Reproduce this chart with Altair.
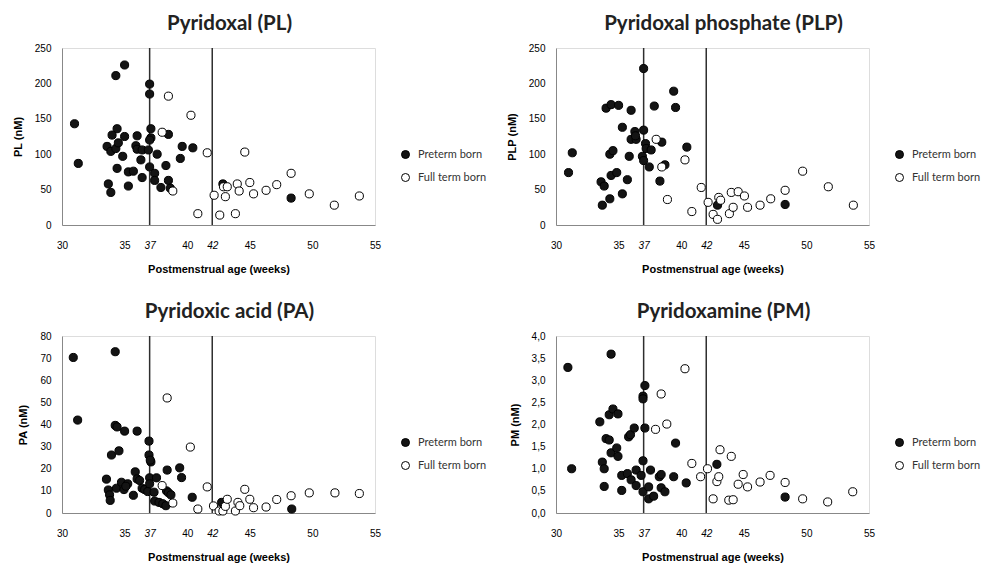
import altair as alt
import pandas as pd

FONT = "Lato"
GROUPS = ["Preterm born", "Full term born"]
X_TICKS = [30, 35, 37, 40, 42, 45, 50, 55]
REF_LINES = [37, 42]
X_TITLE = "Postmenstrual age (weeks)"

# ---- Pyridoxal (PL) ----
pl_pre_age = [31.0, 31.3, 34.3, 35.0, 37.0, 37.0, 34.4, 34.0, 35.0, 33.6, 33.9, 34.3, 34.5, 34.85, 34.4,
              33.7, 33.9, 35.3, 35.3, 35.7, 36.0, 35.9, 36.0, 36.4, 36.9, 36.3, 36.4, 37.1, 37.1, 37.0,
              37.0, 37.4, 37.4, 37.6, 37.9, 38.3, 38.5, 38.5, 38.65, 39.45, 39.6, 40.45, 42.85, 48.3]
pl_pre_val = [143, 87, 211, 226, 199, 185, 136, 127, 125, 111, 104, 108, 116, 97, 80,
              58, 46, 55, 75, 76, 126, 112, 107, 106, 106, 92, 67, 136, 123, 120,
              82, 73, 63, 100, 53, 84, 128, 63, 52, 94, 111, 109, 58, 38]
pl_full_age = [38.5, 38.0, 38.85, 40.3, 40.85, 41.6, 42.15, 42.6, 42.9, 43.05, 43.2, 43.85, 44.0, 44.15,
               44.6, 45.0, 45.3, 46.3, 47.15, 48.3, 49.75, 51.75, 53.75]
pl_full_val = [182, 131, 48, 155, 16, 102, 42, 14, 54, 40, 54, 16, 58, 48,
               103, 60, 44, 49, 57, 73, 44, 28, 41]

# ---- Pyridoxal phosphate (PLP) ----
plp_pre_age = [31.0, 31.3, 33.6, 33.85, 33.7, 34.0, 34.4, 35.0, 34.3, 34.55, 34.4, 34.85, 34.3, 35.3,
               35.3, 35.7, 35.85, 36.0, 36.0, 36.3, 36.4, 36.35, 37.0, 37.0, 36.9, 37.0, 37.15, 37.2,
               37.6, 37.45, 37.85, 38.45, 38.3, 38.7, 39.4, 39.55, 40.45, 42.9, 48.3]
plp_pre_val = [74, 102, 61, 55, 28, 165, 170, 169, 100, 105, 70, 74, 37, 138,
               44, 64, 97, 162, 121, 132, 121, 126, 221, 134, 97, 91, 115, 108,
               106, 82, 168, 117, 62, 85, 189, 166, 110, 28, 29]
plp_full_age = [38.0, 38.45, 38.9, 40.3, 40.85, 41.6, 42.15, 42.55, 42.9, 43.0, 43.15, 43.85, 44.0,
                44.15, 44.55, 45.05, 45.3, 46.3, 47.15, 48.3, 49.7, 51.75, 53.75]
plp_full_val = [121, 82, 36, 92, 19, 53, 32, 15, 8, 39, 35, 16, 46,
                25, 47, 41, 25, 28, 37, 49, 76, 54, 28]

# ---- Pyridoxic acid (PA) ----
pa_pre_age = [30.9, 31.25, 34.25, 34.25, 34.4, 35.0, 36.0, 33.95, 34.55, 33.55, 33.7, 33.8, 33.85, 34.35,
              34.75, 34.95, 35.25, 35.1, 35.7, 35.85, 36.0, 36.2, 36.4, 36.6, 36.85, 36.95, 36.95, 37.1,
              37.05, 37.0, 37.0, 37.55, 37.35, 37.4, 37.75, 38.05, 38.3, 38.4, 38.35, 38.5, 38.7, 39.4,
              39.55, 40.4, 42.75, 48.35]
pa_pre_val = [70.3, 42, 72.9, 39.6, 38.9, 37, 37, 26.2, 28.1, 15.3, 10.4, 8.2, 5.7, 11.2,
              13.9, 10.6, 13.2, 12.1, 8, 18.6, 15.4, 14.7, 11.2, 10.6, 9.7, 32.5, 26.2, 23.1,
              23.9, 15.9, 13.2, 15.9, 9.4, 5.4, 4.8, 4.2, 3.3, 19.4, 10, 9.2, 8.2, 20.4,
              16, 7.1, 4.8, 1.8]
pa_full_age = [38.4, 38.0, 38.85, 40.25, 40.85, 41.6, 42.1, 42.55, 42.85, 43.05, 43.2, 43.85, 44.05,
               44.2, 44.6, 45.0, 45.3, 46.3, 47.15, 48.3, 49.75, 51.8, 53.75]
pa_full_val = [52, 12.4, 4.5, 29.8, 1.8, 11.8, 3.2, 0.9, 0.9, 3, 6.2, 0.9, 4.8,
               3.3, 10.7, 6.2, 2.4, 2.7, 6.1, 7.8, 9.1, 9.1, 8.8]

# ---- Pyridoxamine (PM) ----
pm_pre_age = [30.95, 31.25, 34.4, 33.5, 34.25, 34.55, 34.95, 34.0, 34.25, 34.4, 34.85, 34.95, 33.7, 33.85,
              33.85, 35.25, 35.7, 35.25, 35.8, 35.95, 36.25, 36.0, 36.4, 36.4, 36.8, 37.1, 36.95, 36.95,
              37.1, 36.95, 36.95, 37.4, 37.4, 37.55, 37.8, 38.25, 38.4, 38.4, 38.7, 39.4, 39.55, 40.4,
              42.85, 48.3]
pm_pre_val = [3.29, 1.0, 3.59, 2.06, 2.22, 2.35, 2.24, 1.68, 1.65, 1.36, 1.47, 1.28, 1.15, 1.0,
              0.6, 0.85, 0.89, 0.51, 1.72, 1.77, 1.92, 0.75, 0.97, 0.62, 0.85, 2.88, 2.64, 2.58,
              1.92, 1.18, 0.48, 0.59, 0.32, 0.97, 0.38, 0.82, 0.87, 0.57, 0.48, 0.82, 1.58, 0.68,
              1.1, 0.36]
pm_full_age = [38.4, 37.95, 38.85, 40.3, 40.85, 41.55, 42.1, 42.55, 42.85, 43.0, 43.1, 43.8, 44.0,
               44.15, 44.55, 44.95, 45.3, 46.3, 47.1, 48.3, 49.7, 51.7, 53.7]
pm_full_val = [2.69, 1.89, 2.01, 3.26, 1.12, 0.82, 1.0, 0.32, 0.71, 0.82, 1.43, 0.29, 1.28,
               0.3, 0.65, 0.87, 0.59, 0.7, 0.85, 0.69, 0.32, 0.25, 0.48]


def panel(title, ytitle, pre_age, pre_val, full_age, full_val, ymax, ystep, comma):
    df = pd.DataFrame({
        "age": pre_age + full_age,
        "val": pre_val + full_val,
        "group": [GROUPS[0]] * len(pre_age) + [GROUPS[1]] * len(full_age),
    })
    ref = pd.DataFrame({"x": REF_LINES})
    xs = alt.Scale(domain=[30, 55], nice=False, zero=False)
    ys = alt.Scale(domain=[0, ymax], nice=False)
    n = int(round(ymax / ystep))
    yvals = [round(i * ystep, 3) for i in range(n + 1)]
    if comma:
        yexpr = "replace(format(datum.value, '.1f'), '.', ',')"
    else:
        yexpr = "format(datum.value, 'd')"
    xaxis = alt.Axis(values=X_TICKS, title=X_TITLE, labelOverlap=False, labelFlush=False, grid=False,
                     ticks=False,
                     labelFontStyle={"condition": {"test": "datum.value == 37 || datum.value == 42",
                                                   "value": "italic"}, "value": "normal"},
                     labelPadding=15, titlePadding=13)
    yaxis = alt.Axis(values=yvals, title=ytitle, labelExpr=yexpr, labelPadding=11, titlePadding=11,
                     grid=False, ticks=False)
    rules = alt.Chart(ref).mark_rule(color="#2e2e2e", strokeWidth=1.5).encode(
        x=alt.X("x:Q", scale=xs, axis=xaxis)
    )
    pts = alt.Chart(df).mark_circle(size=66, opacity=1, stroke="black", strokeWidth=1).encode(
        x=alt.X("age:Q", scale=xs, axis=xaxis),
        y=alt.Y("val:Q", scale=ys, axis=yaxis),
        fill=alt.Fill("group:N",
                      scale=alt.Scale(domain=GROUPS, range=["#141414", "#ffffff"]),
                      legend=alt.Legend(orient="none", legendX=338, legendY=101, title=None,
                                        labelFont=FONT, labelFontSize=11, labelColor="#333333",
                                        symbolType="circle", symbolSize=64,
                                        symbolStrokeColor="black", symbolStrokeWidth=1,
                                        rowPadding=10, labelOffset=7)),
    )
    return alt.layer(rules, pts).properties(
        width=313, height=177,
        title=alt.TitleParams(title, font=FONT, fontSize=20.5, fontWeight="bold", color="#222222",
                              anchor="middle", frame="group", dx=11, offset=9),
    )


p1 = panel("Pyridoxal (PL)", "PL (nM)", pl_pre_age, pl_pre_val, pl_full_age, pl_full_val, 250, 50, False)
p2 = panel("Pyridoxal phosphate (PLP)", "PLP (nM)", plp_pre_age, plp_pre_val, plp_full_age, plp_full_val, 250, 50, False)
p3 = panel("Pyridoxic acid (PA)", "PA (nM)", pa_pre_age, pa_pre_val, pa_full_age, pa_full_val, 80, 10, False)
p4 = panel("Pyridoxamine (PM)", "PM (nM)", pm_pre_age, pm_pre_val, pm_full_age, pm_full_val, 4, 0.5, True)

chart = alt.concat(p1, p2, p3, p4, columns=2, spacing={"row": 111, "column": 181}).resolve_scale(
    x="independent", y="independent", fill="independent"
).resolve_legend(fill="independent").properties(
    bounds="flush", padding={"left": 11, "top": 13, "right": 5, "bottom": 5}
).configure_view(stroke=None).configure_axis(
    grid=False, ticks=False, domainColor="#c0c0c0", domainWidth=1.2,
    labelFont=FONT, labelFontSize=12, labelColor="#333333",
    titleFont=FONT, titleFontSize=10.5, titleFontWeight="bold", titleColor="#333333",
).configure(background="white")

chart.save("out.html", embed_options={"renderer": "svg", "actions": False})
